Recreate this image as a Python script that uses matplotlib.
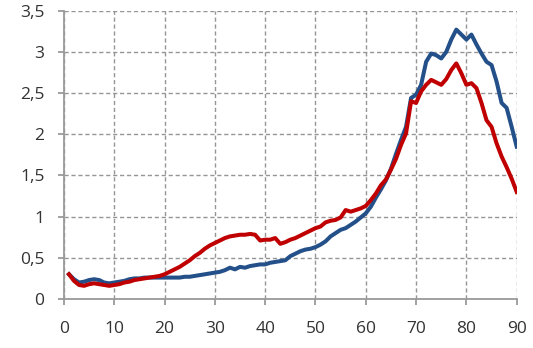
import matplotlib
matplotlib.use("Agg")
import matplotlib.pyplot as plt
from matplotlib.ticker import FuncFormatter

x = list(range(1, 91))

red = [0.30, 0.22, 0.17, 0.16, 0.18, 0.19, 0.18, 0.17, 0.16, 0.17,
       0.18, 0.20, 0.21, 0.23, 0.24, 0.25, 0.26, 0.27, 0.28, 0.30,
       0.33, 0.36, 0.39, 0.43, 0.47, 0.52, 0.56, 0.61, 0.65, 0.68,
       0.71, 0.74, 0.76, 0.77, 0.78, 0.78, 0.79, 0.78, 0.71, 0.72,
       0.72, 0.74, 0.67, 0.69, 0.72, 0.74, 0.77, 0.80, 0.83, 0.86,
       0.88, 0.93, 0.95, 0.96, 0.99, 1.08, 1.06, 1.08, 1.10, 1.13,
       1.20, 1.28, 1.38, 1.45, 1.57, 1.70, 1.87, 2.01, 2.40, 2.38,
       2.52, 2.60, 2.66, 2.63, 2.60, 2.67, 2.78, 2.86, 2.74, 2.60,
       2.62, 2.56, 2.38, 2.17, 2.09, 1.89, 1.73, 1.60, 1.46, 1.30]

blue = [0.30, 0.24, 0.20, 0.21, 0.23, 0.24, 0.23, 0.20, 0.19, 0.20,
        0.21, 0.22, 0.24, 0.25, 0.25, 0.26, 0.26, 0.26, 0.26, 0.26,
        0.26, 0.26, 0.26, 0.27, 0.27, 0.28, 0.29, 0.30, 0.31, 0.32,
        0.33, 0.35, 0.38, 0.36, 0.39, 0.38, 0.40, 0.41, 0.42, 0.42,
        0.44, 0.45, 0.46, 0.47, 0.52, 0.55, 0.58, 0.60, 0.61, 0.63,
        0.66, 0.70, 0.76, 0.80, 0.84, 0.86, 0.90, 0.94, 0.99, 1.04,
        1.12, 1.23, 1.33, 1.44, 1.58, 1.76, 1.93, 2.09, 2.44, 2.48,
        2.60, 2.88, 2.98, 2.96, 2.92, 3.00, 3.15, 3.27, 3.21, 3.15,
        3.21, 3.09, 2.98, 2.88, 2.84, 2.64, 2.38, 2.32, 2.09, 1.85]

xticks = [0, 10, 20, 30, 40, 50, 60, 70, 80, 90]
yticks = [0, 0.5, 1, 1.5, 2, 2.5, 3, 3.5]

plt.rcParams['font.family'] = ['Open Sans', 'DejaVu Sans']

fig = plt.figure(figsize=(5.33, 3.48), dpi=100)
ax = fig.add_axes([0.120, 0.1408, 0.8494, 0.8285])

ax.plot(x, blue, color='#235089', lw=2.9, solid_joinstyle='round', zorder=3)
ax.plot(x, red, color='#C00000', lw=2.9, solid_joinstyle='round', zorder=4)

ax.set_xlim(0, 90)
ax.set_ylim(0, 3.5)
ax.set_xticks(xticks)
ax.set_yticks(yticks)

def fmt(v, pos):
    s = ('%g' % v).replace('.', ',')
    return s

ax.yaxis.set_major_formatter(FuncFormatter(fmt))
ax.xaxis.set_major_formatter(FuncFormatter(fmt))

ax.grid(True, color='#959595', linestyle=(0, (3.0, 2.0)), linewidth=1.0, zorder=1)
ax.set_axisbelow(True)

for s in ['top', 'right']:
    ax.spines[s].set_visible(False)
for s in ['left', 'bottom']:
    ax.spines[s].set_color('#9A9A9A')
    ax.spines[s].set_linewidth(1.3)

ax.tick_params(axis='both', colors='#9A9A9A', labelcolor='#333333',
               labelsize=12.5, length=4.5, width=1.3)
ax.tick_params(axis='x', pad=11)
ax.tick_params(axis='y', pad=9.5)

fig.savefig('out.png', dpi=100)
